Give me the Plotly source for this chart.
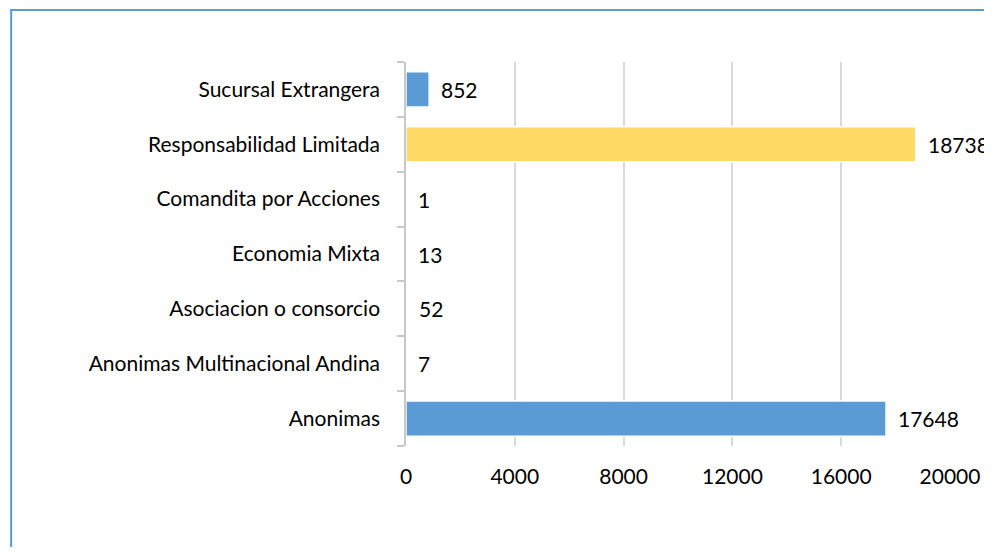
import plotly.graph_objects as go

# categories listed bottom to top (plotly draws the first at the bottom)
categorias = [
    "Anonimas",
    "Anonimas Multinacional Andina",
    "Asociacion o consorcio",
    "Economia Mixta",
    "Comandita por Acciones",
    "Responsabilidad Limitada",
    "Sucursal Extrangera",
]
cantidades = [17648, 7, 52, 13, 1, 18738, 852]
colores = ["#5B9BD5", "#5B9BD5", "#5B9BD5", "#5B9BD5", "#5B9BD5", "#FFD966", "#5B9BD5"]
ticks_x = [0, 4000, 8000, 12000, 16000, 20000]

fuente = "Lato, 'Open Sans', sans-serif"
tam = 21

fig = go.Figure()
fig.add_trace(go.Bar(
    x=cantidades,
    y=categorias,
    orientation="h",
    width=0.64,
    marker=dict(color=colores, line=dict(color="white", width=1.5)),
    hoverinfo="x+y",
))

# data labels just right of each bar end
for cat, val in zip(categorias, cantidades):
    fig.add_annotation(x=val, y=cat, text=str(val), showarrow=False,
                       xanchor="left", xshift=10,
                       font=dict(family=fuente, size=tam, color="#000000"))

# chart area border (only top and left edges fall inside the window)
fig.add_shape(type="rect", xref="paper", yref="paper",
              x0=-0.7258, x1=1.5, y0=-0.6, y1=1.1354,
              line=dict(color="#5B9BD5", width=2), fillcolor="rgba(0,0,0,0)")

fig.update_xaxes(
    range=[0, 20000],
    tickvals=ticks_x,
    ticktext=[str(t) for t in ticks_x],
    showgrid=True, gridcolor="#D9D9D9", gridwidth=1.5,
    zeroline=False, showline=False,
    tickfont=dict(family=fuente, size=tam, color="#000000"),
    ticklabelstandoff=16,
)
fig.update_yaxes(
    categoryorder="array", categoryarray=categorias,
    showline=True, linecolor="#C8C8C8", linewidth=1.5,
    ticks="outside", ticklen=7, tickcolor="#C8C8C8", tickwidth=1.5,
    tickson="boundaries",
    showgrid=False,
    tickfont=dict(family=fuente, size=tam, color="#000000"),
    ticklabelstandoff=20,
)
# page body adds an 8px offset, so the figure is smaller than the window
fig.update_layout(
    width=984, height=539,
    margin=dict(l=398, r=39, t=54, b=101),
    plot_bgcolor="white", paper_bgcolor="white",
    showlegend=False,
    bargap=0.36,
)

fig.write_html("out.html")
